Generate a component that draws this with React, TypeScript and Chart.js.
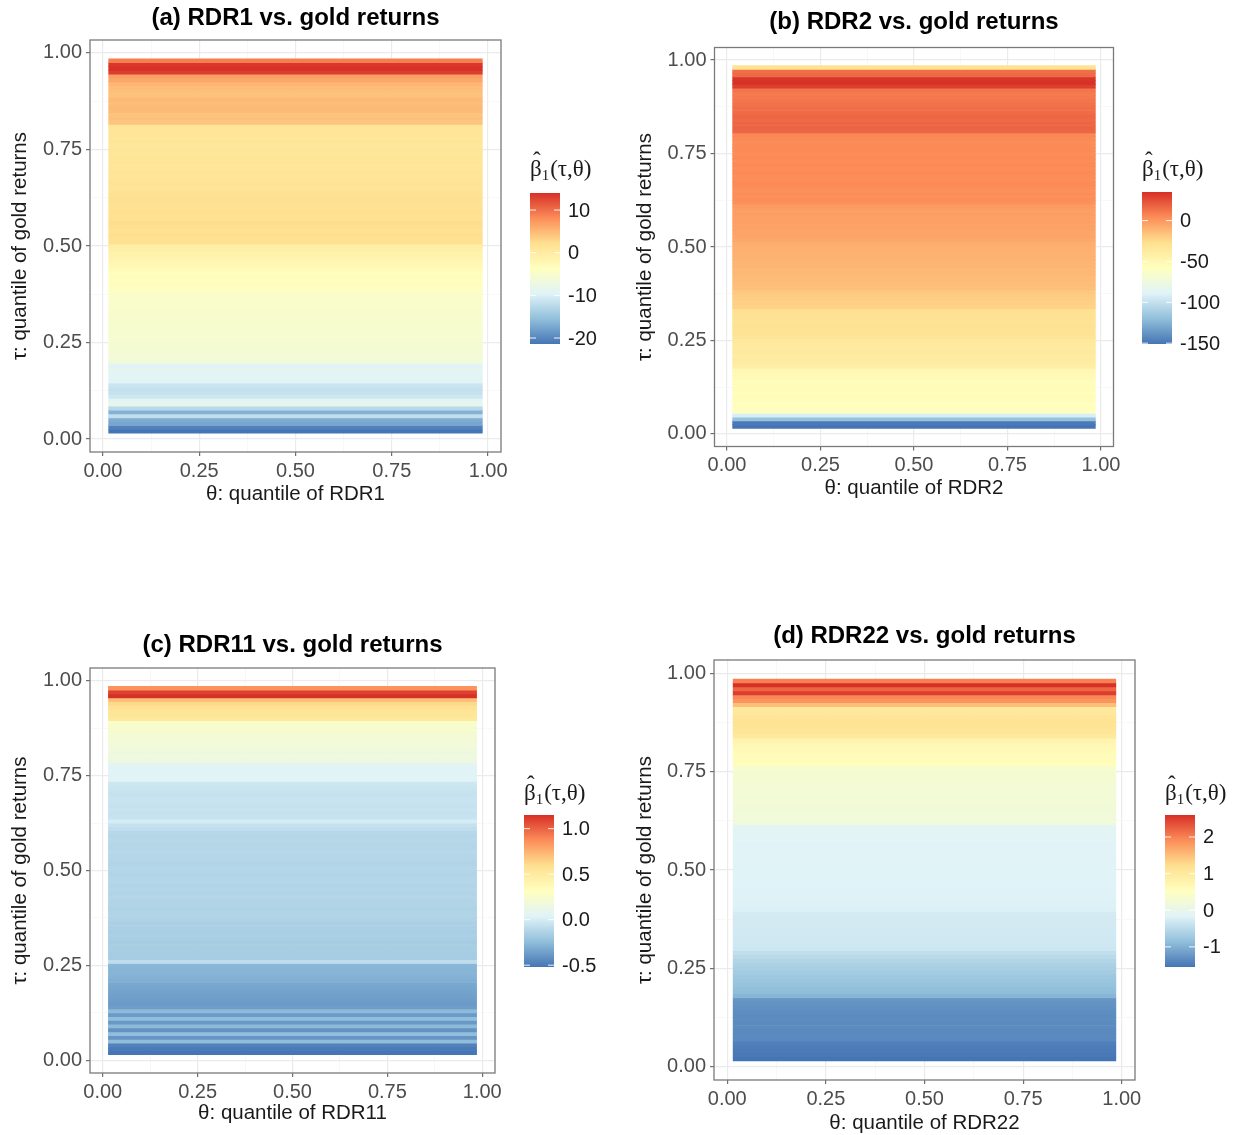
import React, { useEffect, useRef } from 'react';
import { Chart, registerables } from 'chart.js';

Chart.register(...registerables);

// ---------------- DATA ----------------
// tau: quantile of gold returns (tile centres)
const TAU: number[] = [
  0.02, 0.03, 0.04, 0.05, 0.06, 0.07, 0.08, 0.09, 0.10, 0.11,
  0.12, 0.13, 0.14, 0.15, 0.16, 0.17, 0.18, 0.19, 0.20, 0.21,
  0.22, 0.23, 0.24, 0.25, 0.26, 0.27, 0.28, 0.29, 0.30, 0.31,
  0.32, 0.33, 0.34, 0.35, 0.36, 0.37, 0.38, 0.39, 0.40, 0.41,
  0.42, 0.43, 0.44, 0.45, 0.46, 0.47, 0.48, 0.49, 0.50, 0.51,
  0.52, 0.53, 0.54, 0.55, 0.56, 0.57, 0.58, 0.59, 0.60, 0.61,
  0.62, 0.63, 0.64, 0.65, 0.66, 0.67, 0.68, 0.69, 0.70, 0.71,
  0.72, 0.73, 0.74, 0.75, 0.76, 0.77, 0.78, 0.79, 0.80, 0.81,
  0.82, 0.83, 0.84, 0.85, 0.86, 0.87, 0.88, 0.89, 0.90, 0.91,
  0.92, 0.93, 0.94, 0.95, 0.96, 0.97, 0.98,
];

// theta: quantile of RDR (first / last tile centre and tile width)
const THETA_FIRST = 0.02;
const THETA_LAST = 0.98;
const TILE_WIDTH = 0.01;

// beta_1(tau, theta) for each tau (constant across theta)
const BETA_RDR1: number[] = [
  -21.4, -20.5, -17.5, -17.0, -12.0, -16.5, -12.5, -8.5, -8.8, -11.0,
  -11.5, -11.8, -11.2, -9.5, -9.0, -9.3, -8.8, -9.5, -6.5, -6.2,
  -6.0, -5.8, -5.9, -5.6, -5.5, -5.4, -5.5, -5.3, -5.2, -5.3,
  -5.1, -5.0, -5.0, -4.8, -4.9, -4.7, -4.6, -3.5, -3.4, -3.6,
  -3.3, -3.5, -3.0, -2.2, -2.0, -1.5, -1.2, -0.8, -0.5, 2.0,
  2.1, 2.3, 2.0, 2.2, 2.4, 2.1, 2.0, 2.2, 1.9, 2.0,
  2.2, 1.8, 1.6, 1.5, 1.7, 1.4, 1.3, 1.5, 1.2, 1.0,
  1.3, 1.1, 1.0, 1.2, 0.9, 1.1, 1.0, 1.3, 1.2, 1.4,
  4.2, 4.5, 4.3, 4.8, 5.0, 4.6, 4.9, 4.4, 4.5, 4.7,
  5.2, 6.3, 6.8, 13.2, 14.0, 13.6, 9.0,
];

const BETA_RDR2: number[] = [
  -151, -149, -118, -92, -60, -57, -58, -56, -55, -57,
  -55, -54, -56, -53, -52, -50, -42, -40, -38, -39,
  -37, -38, -36, -35, -31, -30, -30, -29, -30, -28,
  -29, -27, -22, -21, -20, -19, -18, -15, -14, -13,
  -13, -12, -12, -11, -11, -10, -10, -9, -9, -8,
  -6, -5, -5, -4, -4, -3, -3, -2, -2, -1,
  3, 4, 4, 3, 4, 5, 4, 4, 5, 4,
  5, 4, 5, 4, 5, 5, 4, 5, 6, 17,
  18, 17, 16, 17, 15, 14, 13, 12, 11, 10,
  12, 30, 35, 33, 16, 14, -30,
];

const BETA_RDR11: number[] = [
  -0.52, -0.50, -0.47, -0.25, -0.40, -0.24, -0.41, -0.26, -0.39, -0.24,
  -0.38, -0.26, -0.37, -0.38, -0.37, -0.36, -0.35, -0.34, -0.33, -0.30,
  -0.29, -0.28, -0.28, -0.27, -0.08, -0.17, -0.17, -0.16, -0.16, -0.17,
  -0.16, -0.15, -0.16, -0.15, -0.15, -0.14, -0.13, -0.13, -0.14, -0.13,
  -0.13, -0.12, -0.13, -0.12, -0.13, -0.12, -0.12, -0.13, -0.12, -0.12,
  -0.13, -0.12, -0.12, -0.11, -0.12, -0.12, -0.11, -0.12, -0.11, -0.08,
  -0.06, 0.00, -0.05, -0.06, -0.05, -0.06, -0.05, -0.05, -0.06, -0.05,
  -0.04, -0.03, 0.04, 0.05, 0.04, 0.05, 0.06, 0.15, 0.17, 0.16,
  0.18, 0.19, 0.20, 0.21, 0.22, 0.23, 0.24, 0.26, 0.52, 0.54,
  0.55, 0.58, 0.62, 0.70, 1.15, 1.10, 0.85,
];

const BETA_RDR22: number[] = [
  -1.55, -1.52, -1.50, -1.48, -1.45, -1.36, -1.35, -1.36, -1.34, -1.35,
  -1.33, -1.34, -1.32, -1.30, -1.28, -1.25, -0.95, -0.88, -0.85, -0.80,
  -0.78, -0.74, -0.70, -0.66, -0.62, -0.58, -0.50, -0.45, -0.33, -0.32,
  -0.31, -0.31, -0.30, -0.30, -0.29, -0.28, -0.28, -0.27, -0.20, -0.19,
  -0.19, -0.18, -0.18, -0.18, -0.17, -0.17, -0.17, -0.16, -0.16, -0.16,
  -0.15, -0.15, -0.15, -0.14, -0.14, -0.14, -0.13, -0.13, -0.12, -0.12,
  0.18, 0.20, 0.21, 0.22, 0.22, 0.23, 0.24, 0.24, 0.25, 0.26,
  0.27, 0.28, 0.29, 0.31, 0.34, 0.58, 0.60, 0.62, 0.64, 0.66,
  0.70, 0.78, 1.00, 1.08, 1.12, 1.15, 1.14, 1.10, 1.05, 1.02,
  1.50, 1.85, 1.95, 2.50, 2.20, 2.60, 2.00,
];

// axis breaks (major labelled, minor unlabelled)
const AXIS_BREAKS: number[] = [0, 0.125, 0.25, 0.375, 0.5, 0.625, 0.75, 0.875, 1];

// colour-bar breaks for each panel
const LEGEND_BREAKS_RDR1: number[] = [10, 0, -10, -20];
const LEGEND_BREAKS_RDR2: number[] = [0, -50, -100, -150];
const LEGEND_BREAKS_RDR11: number[] = [1.0, 0.5, 0.0, -0.5];
const LEGEND_BREAKS_RDR22: number[] = [2, 1, 0, -1];

const PANEL_TITLES: string[] = [
  '(a) RDR1 vs. gold returns',
  '(b) RDR2 vs. gold returns',
  '(c) RDR11 vs. gold returns',
  '(d) RDR22 vs. gold returns',
];
const X_TITLES: string[] = [
  'θ: quantile of RDR1',
  'θ: quantile of RDR2',
  'θ: quantile of RDR11',
  'θ: quantile of RDR22',
];
const Y_TITLE = 'τ: quantile of gold returns';

// ---------------- STYLE / LAYOUT ----------------
const PALETTE = ['#4575B4', '#91BFDB', '#E0F3F8', '#FFFFBF', '#FEE090', '#FC8D59', '#D73027'];
const SANS = '"Liberation Sans", Arial, Helvetica, sans-serif';
const SERIF = '"Liberation Serif", "DejaVu Serif", serif';

type Layout = {
  cx: number; cy: number; cw: number; ch: number;
  L: number; T: number; R: number; B: number;
  titleY: number; xTitleY: number; yTitleX: number;
  barX: number; barTop: number; barBottom: number; legTitleY: number;
};

const LAYOUTS: Layout[] = [
  { cx: 0, cy: 0, cw: 617, ch: 560, L: 90, T: 40, R: 501, B: 452, titleY: 18, xTitleY: 494, yTitleX: 20, barX: 530, barTop: 193, barBottom: 344, legTitleY: 168 },
  { cx: 617, cy: 0, cw: 617, ch: 560, L: 714.5, T: 47.5, R: 1113.5, B: 446.5, titleY: 22, xTitleY: 488, yTitleX: 645, barX: 1142, barTop: 192, barBottom: 344, legTitleY: 168 },
  { cx: 0, cy: 560, cw: 617, ch: 575, L: 90, T: 668, R: 495, B: 1073, titleY: 645, xTitleY: 1113, yTitleX: 20, barX: 524, barTop: 815, barBottom: 967, legTitleY: 792 },
  { cx: 617, cy: 560, cw: 617, ch: 575, L: 714, T: 660, R: 1135, B: 1080, titleY: 636, xTitleY: 1123, yTitleX: 645, barX: 1165, barTop: 815, barBottom: 967, legTitleY: 792 },
];

const PANEL_VALUES = [BETA_RDR1, BETA_RDR2, BETA_RDR11, BETA_RDR22];
const PANEL_BREAKS = [LEGEND_BREAKS_RDR1, LEGEND_BREAKS_RDR2, LEGEND_BREAKS_RDR11, LEGEND_BREAKS_RDR22];
const PANEL_DECIMALS = [0, 0, 1, 0];

function hexToRgb(h: string): number[] {
  return [parseInt(h.slice(1, 3), 16), parseInt(h.slice(3, 5), 16), parseInt(h.slice(5, 7), 16)];
}
const PAL_RGB = PALETTE.map(hexToRgb);

function colorFor(v: number, min: number, max: number): string {
  let t = (v - min) / (max - min);
  t = Math.max(0, Math.min(1, t));
  const s = t * (PAL_RGB.length - 1);
  const i = Math.min(PAL_RGB.length - 2, Math.floor(s));
  const f = s - i;
  const a = PAL_RGB[i], b = PAL_RGB[i + 1];
  const c = a.map((x, k) => Math.round(x + (b[k] - x) * f));
  return `rgb(${c[0]},${c[1]},${c[2]})`;
}

const isMajor = (v: number) => Math.abs(v * 4 - Math.round(v * 4)) < 1e-9;

function Panel({ idx }: { idx: number }) {
  const ref = useRef<HTMLCanvasElement | null>(null);
  const lay = LAYOUTS[idx];

  useEffect(() => {
    const canvas = ref.current;
    if (!canvas) return;
    const values = PANEL_VALUES[idx];
    const breaks = PANEL_BREAKS[idx];
    const dec = PANEL_DECIMALS[idx];
    const vmin = Math.min(...values);
    const vmax = Math.max(...values);

    // tile extent and 5% expansion (ggplot default)
    const lo = THETA_FIRST - TILE_WIDTH / 2;
    const hi = THETA_LAST + TILE_WIDTH / 2;
    const tauLo = TAU[0] - TILE_WIDTH / 2;
    const tauHi = TAU[TAU.length - 1] + TILE_WIDTH / 2;
    const xExp = (hi - lo) * 0.05;
    const yExp = (tauHi - tauLo) * 0.05;

    const tickFont = { family: SANS, size: 20 };
    const axTitleFont = { family: SANS, size: 20.5, lineHeight: 1 };

    const gridColor = (c: any) => (c.tick && isMajor(c.tick.value) ? '#EBEBEB' : '#F4F4F4');
    const gridWidth = (c: any) => (c.tick && isMajor(c.tick.value) ? 1.2 : 0.6);
    const tickColor = (c: any) => (c.tick && isMajor(c.tick.value) ? '#6E6E6E' : 'rgba(0,0,0,0)');
    const fmt = (v: any) => (isMajor(Number(v)) ? Number(v).toFixed(2) : '');

    const decor = {
      id: 'decor' + idx,
      afterDatasetsDraw(chart: any) {
        const { ctx, chartArea: a } = chart;
        ctx.save();
        ctx.strokeStyle = '#7A7A7A';
        ctx.lineWidth = 1.3;
        ctx.strokeRect(a.left, a.top, a.right - a.left, a.bottom - a.top);
        ctx.restore();
      },
      afterDraw(chart: any) {
        const { ctx, chartArea: a } = chart;
        ctx.save();
        // panel title
        ctx.fillStyle = '#000000';
        ctx.font = `bold 24px ${SANS}`;
        ctx.textAlign = 'center';
        ctx.textBaseline = 'middle';
        ctx.fillText(PANEL_TITLES[idx], (a.left + a.right) / 2, lay.titleY - lay.cy);

        // colour bar
        const bx = lay.barX - lay.cx;
        const bt = lay.barTop - lay.cy;
        const bb = lay.barBottom - lay.cy;
        const bw = 30;
        const grad = ctx.createLinearGradient(0, bb, 0, bt);
        PALETTE.forEach((col, i) => grad.addColorStop(i / (PALETTE.length - 1), col));
        ctx.fillStyle = grad;
        ctx.fillRect(bx, bt, bw, bb - bt);

        ctx.font = `20px ${SANS}`;
        ctx.textAlign = 'left';
        ctx.textBaseline = 'middle';
        breaks.forEach((v) => {
          const y = bb - ((v - vmin) / (vmax - vmin)) * (bb - bt);
          ctx.strokeStyle = 'rgba(255,255,255,0.9)';
          ctx.lineWidth = 1;
          ctx.beginPath();
          ctx.moveTo(bx, y); ctx.lineTo(bx + 6, y);
          ctx.moveTo(bx + bw - 6, y); ctx.lineTo(bx + bw, y);
          ctx.stroke();
          ctx.fillStyle = '#1A1A1A';
          ctx.fillText(v.toFixed(dec), bx + bw + 8, y + 1);
        });

        // legend title: beta-hat_1(tau, theta)
        const ty = lay.legTitleY - lay.cy + 8;
        ctx.fillStyle = '#1A1A1A';
        ctx.textBaseline = 'alphabetic';
        ctx.font = `23px ${SERIF}`;
        ctx.fillText('β', bx, ty);
        const wb = ctx.measureText('β').width;
        ctx.textAlign = 'center';
        ctx.fillText('ˆ', bx + wb / 2 + 1, ty - 8);
        ctx.textAlign = 'left';
        ctx.font = `15px ${SERIF}`;
        ctx.fillText('1', bx + wb, ty + 4);
        const w1 = ctx.measureText('1').width;
        ctx.font = `23px ${SERIF}`;
        ctx.fillText('(τ,θ)', bx + wb + w1 + 1, ty);
        ctx.restore();
      },
    };

    const chart = new Chart(canvas, {
      type: 'bar',
      data: {
        datasets: [
          {
            data: TAU.map((t) => ({ x: [lo, hi], y: t })) as any,
            backgroundColor: values.map((v) => colorFor(v, vmin, vmax)),
            borderWidth: 0,
            barPercentage: 1,
            categoryPercentage: 1,
          } as any,
        ],
      },
      options: {
        indexAxis: 'y',
        responsive: false,
        animation: false,
        events: [],
        layout: { padding: { left: 0, top: lay.T - lay.cy, right: lay.cx + lay.cw - lay.R, bottom: 0 } },
        plugins: { legend: { display: false }, tooltip: { enabled: false }, title: { display: false } },
        scales: {
          x: {
            type: 'linear',
            position: 'bottom',
            min: lo - xExp,
            max: hi + xExp,
            afterBuildTicks: (s: any) => { s.ticks = AXIS_BREAKS.map((v) => ({ value: v })); },
            afterFit: (s: any) => { s.height = lay.cy + lay.ch - lay.B; },
            ticks: { callback: fmt, autoSkip: false, maxRotation: 0, minRotation: 0, padding: 3, color: '#4D4D4D', font: tickFont },
            grid: { color: gridColor, lineWidth: gridWidth, drawTicks: true, tickLength: 4, tickColor: tickColor, tickWidth: 1.2 },
            border: { display: false },
            title: { display: true, text: X_TITLES[idx], color: '#1A1A1A', font: axTitleFont, padding: { top: 0, bottom: lay.cy + lay.ch - lay.xTitleY - 10.25 } },
          },
          y: {
            type: 'linear',
            position: 'left',
            offset: false,
            min: tauLo - yExp,
            max: tauHi + yExp,
            afterBuildTicks: (s: any) => { s.ticks = AXIS_BREAKS.map((v) => ({ value: v })); },
            afterFit: (s: any) => { s.width = lay.L - lay.cx; },
            ticks: { callback: fmt, autoSkip: false, padding: 4, color: '#4D4D4D', font: tickFont },
            grid: { offset: false, color: gridColor, lineWidth: gridWidth, drawTicks: true, tickLength: 4, tickColor: tickColor, tickWidth: 1.2 },
            border: { display: false },
            title: { display: true, text: Y_TITLE, color: '#1A1A1A', font: axTitleFont, padding: { top: lay.yTitleX - lay.cx - 10.25, bottom: 0 } },
          },
        },
      } as any,
      plugins: [decor],
    });
    return () => chart.destroy();
  }, [idx]);

  return (
    <canvas
      ref={ref}
      width={lay.cw}
      height={lay.ch}
      style={{ position: 'absolute', left: lay.cx, top: lay.cy, width: lay.cw, height: lay.ch }}
    />
  );
}

export default function App() {
  return (
    <div style={{ position: 'absolute', left: 0, top: 0, width: 1234, height: 1135, background: '#FFFFFF', overflow: 'hidden' }}>
      {[0, 1, 2, 3].map((i) => (
        <Panel key={i} idx={i} />
      ))}
    </div>
  );
}
